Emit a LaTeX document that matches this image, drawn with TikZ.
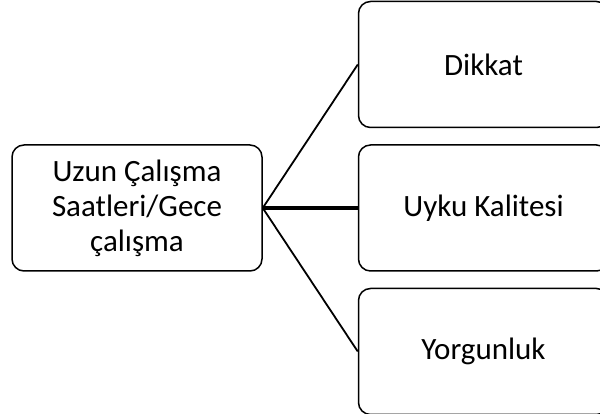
\documentclass[tikz,border=0pt]{standalone}
\usepackage{fontspec}
\setmainfont{Carlito}
\usetikzlibrary{positioning}

\begin{document}
\begin{tikzpicture}[
    x=1pt, y=1pt,
    node distance=16pt and 95pt,
    causebox/.style={
        rectangle,
        rounded corners=12pt,
        draw,
        line width=1.5pt,
        align=center,
        minimum width=250pt,
        minimum height=126pt,
        inner sep=4pt,
        font=\fontsize{31}{35}\selectfont
    },
    link/.style={
        line width=1.8pt
    },
    mainlink/.style={
        line width=3.2pt
    }
]

\useasboundingbox (0,0) rectangle (600,414);

% =========================
% Cause
% =========================

\node[causebox] (cause) at (137,206)
{Uzun Çalışma\\Saatleri/Gece\\çalışma};

% =========================
% Effects
% =========================

\node[causebox, right=of cause] (sleep)
{Uyku Kalitesi};

\node[causebox, above=of sleep] (attention)
{Dikkat};

\node[causebox, below=of sleep] (fatigue)
{Yorgunluk};

% =========================
% Connections
% =========================

\draw[link] (cause.east) -- (attention.west);
\draw[mainlink] (cause.east) -- (sleep.west);
\draw[link] (cause.east) -- (fatigue.west);

\end{tikzpicture}
\end{document}
